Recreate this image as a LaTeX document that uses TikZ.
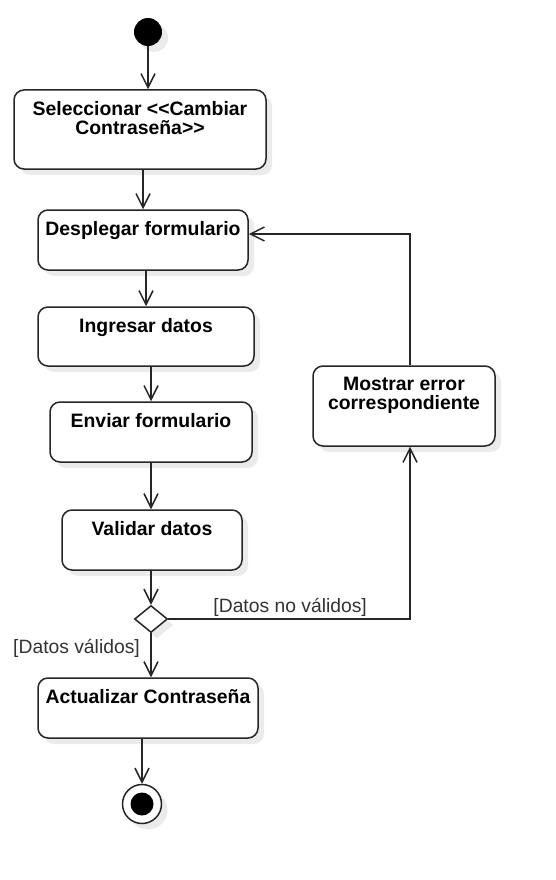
\documentclass[tikz,border=0pt]{standalone}
\usepackage{fontspec}
\setmainfont{Liberation Sans}
\usetikzlibrary{shapes.geometric,arrows.meta,shadows}

\tikzset{
	shade/.style={drop shadow={shadow xshift=6pt,shadow yshift=-6pt,fill=black!8,opacity=1}},
	act/.style={draw=black!85,line width=1.5pt,rounded corners=10pt,fill=white,shade},
	acttxt/.style={anchor=north,inner sep=0pt,align=center,font=\bfseries\fontsize{19.4}{18.5}\selectfont},
	guard/.style={inner sep=0pt,text=black!80,font=\fontsize{19.3}{22}\selectfont},
	flow/.style={draw=black!85,line width=1.5pt,-{Straight Barb[length=14pt,width=14pt]}},
	start/.style={circle,fill=black,minimum size=28pt,inner sep=0pt,shade},
	stop/.style={circle,draw=black!85,line width=1.5pt,fill=white,minimum size=39pt,inner sep=0pt,shade,
		path picture={\fill[black] (path picture bounding box.center) circle (11.5pt);}},
	choice/.style={diamond,draw=black!85,line width=1.5pt,fill=white,minimum width=33pt,minimum height=27pt,inner sep=0pt,shade}
}

\begin{document}
\begin{tikzpicture}[x=1pt,y=-1pt]
		\useasboundingbox (0,0) rectangle (555,880);
		\node[start] (ini) at (148,32) {};
		\node[act,minimum width=252pt,minimum height=79pt] (sel) at (140,129.5) {};
		\node[act,minimum width=210pt,minimum height=60pt] (des) at (143,240) {};
		\node[act,minimum width=216pt,minimum height=59pt] (ing) at (146,336.5) {};
		\node[act,minimum width=202pt,minimum height=60pt] (env) at (151,432) {};
		\node[act,minimum width=180pt,minimum height=60pt] (val) at (152,540) {};
		\node[choice] (dec) at (151,619) {};
		\node[act,minimum width=220pt,minimum height=60pt] (act) at (148,708) {};
		\node[stop] (fin) at (142,804) {};
		\node[act,minimum width=182pt,minimum height=80pt] (mos) at (404,406) {};

		\node[acttxt] (selt) at ([yshift=-12pt]sel.north) {Seleccionar <{}<Cambiar\\Contraseña>{}>};
		\node[acttxt] (dest) at ([yshift=-12pt]des.north) {Desplegar formulario};
		\node[acttxt] (ingt) at ([yshift=-12pt]ing.north) {Ingresar datos};
		\node[acttxt] (envt) at ([yshift=-12pt]env.north) {Enviar formulario};
		\node[acttxt] (valt) at ([yshift=-12pt]val.north) {Validar datos};
		\node[acttxt] (actt) at ([yshift=-12pt]act.north) {Actualizar Contraseña};
		\node[acttxt] (most) at ([yshift=-12pt]mos.north) {Mostrar error\\correspondiente};

		\draw[flow] (ini) -- (ini |- sel.north);
		\draw[flow] (des.north |- sel.south) -- (des.north);
		\draw[flow] (ing.north |- des.south) -- (ing.north);
		\draw[flow] (env.north |- ing.south) -- (env.north);
		\draw[flow] (env.south) -- (env.south |- val.north);
		\draw[flow] (dec.north |- val.south) -- (dec.north);
		\draw[flow] (dec.south) -- (dec.south |- act.north);
		\draw[flow] (fin.north |- act.south) -- (fin.north);
		\draw[flow] (dec.east) -| ([xshift=6pt]mos.south);
		\draw[flow] ([xshift=6pt]mos.north) |- ([yshift=6pt]des.east);

		\node[guard,anchor=base east] (gok) at ([xshift=-11pt,yshift=-20pt]dec.south) {[Datos válidos]};
		\node[guard,anchor=base west] (gko) at ([xshift=45pt,yshift=7pt]dec.east) {[Datos no válidos]};
	\end{tikzpicture}
\end{document}
